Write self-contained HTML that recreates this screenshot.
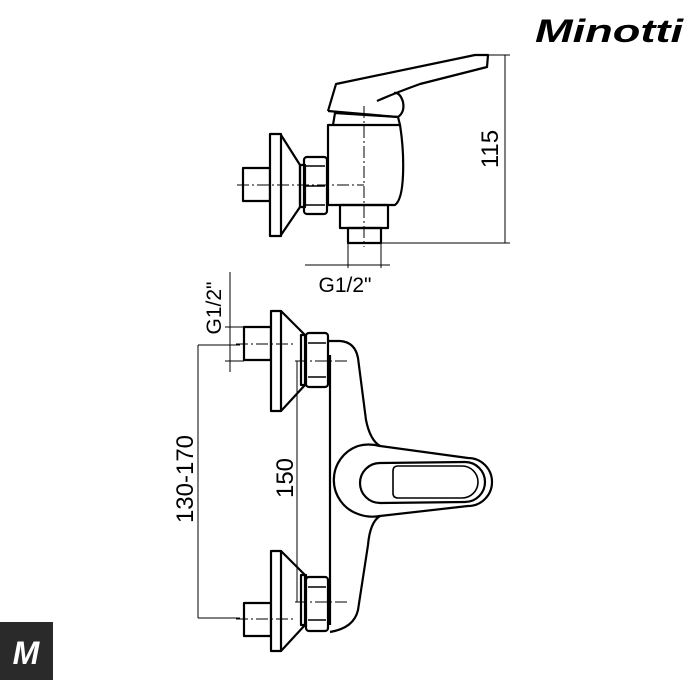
<!DOCTYPE html>
<html><head><meta charset="utf-8"><style>
html,body{margin:0;padding:0;background:#fff;width:700px;height:700px;overflow:hidden}
svg{display:block}
text{font-family:"Liberation Sans",sans-serif;fill:#000}
</style></head><body>
<svg width="700" height="700" viewBox="0 0 700 700" xmlns="http://www.w3.org/2000/svg">
<g fill="none" stroke="#000" stroke-width="2.2" stroke-linejoin="round">
<!-- TOP VIEW -->
<rect x="243" y="168" width="27" height="33" fill="#fff"/>
<rect x="270" y="134" width="11" height="102" fill="#fff"/>
<path d="M281 135 L300 165 L300 207 L281 235"/>
<rect x="300" y="165" width="5" height="42"/>
<rect x="304" y="157" width="23" height="57" rx="3"/>
<path d="M306 166 L325 166 M306 205 L325 205 M306 186 L325 186" stroke-width="1.4"/>
<path d="M328 125 L400 125 Q404 150 403 175 Q402 200 395 205 L328 205 Z"/>
<path d="M333 125 L335 113 L398 117 L400 125"/>
<path d="M328 111 L336 84 L475 55 L488 55 L487 67 L420 84 Q395 93 377 101 M398 117 L328 111" />
<path d="M398 117 Q405 112 403 102 Q400 92 394 93"/>
<rect x="340" y="205" width="48" height="23"/>
<rect x="348" y="228" width="33" height="15"/>
</g>
<g fill="none" stroke="#000" stroke-width="1" stroke-dasharray="12 3 2 3">
<path d="M237 185 L364 185"/>
<path d="M364 106 L364 247"/>
</g>
<g fill="none" stroke="#000" stroke-width="1">
<path d="M488 55 L510 55 M381 243 L510 243 M505 55 L505 243"/>
<path d="M348 243 L348 268 M381 243 L381 268 M305 265 L390 265"/>
</g>
<text x="498" y="149" font-size="24" transform="rotate(-90 498 149)" text-anchor="middle">115</text>
<text x="345" y="292" font-size="21" text-anchor="middle">G1/2"</text>

<!-- BOTTOM VIEW -->
<g fill="none" stroke="#000" stroke-width="2.2" stroke-linejoin="round">
<path d="M328 341 L340 341 Q355 342 358 358 L366 420 Q370 440 380 446"/>
<path d="M330 355 L330 625"/>
<path d="M380 516 Q370 522 368 545 L358 610 Q354 628 330 632"/>
<path d="M380 446 Q368 443 358 446 A36 36 0 0 0 358 514 Q368 518 380 516 L468 506 A24 24 0 0 0 468 458 Z"/>
<path d="M380 463 L465 462 A20 20 0 0 1 465 502 L380 503 A20 20 0 0 1 380 463 Z"/>
<path d="M398 466 L462 466 A16 16 0 0 1 462 498 L398 498 Q393 498 393 493 L393 471 Q393 466 398 466 Z" stroke-width="1.6"/>
<rect x="244" y="327" width="27" height="33" fill="#fff"/>
<rect x="271" y="311" width="10" height="100" fill="#fff"/>
<path d="M281 311 L305 335 L305 385 L281 411"/>
<rect x="301" y="335" width="5" height="50"/>
<rect x="306" y="333" width="22" height="54" rx="3" fill="#fff"/>
<path d="M308 343 L326 343 M308 377 L326 377" stroke-width="1.4"/>
<rect x="244" y="603" width="27" height="33" fill="#fff"/>
<rect x="271" y="551" width="10" height="100" fill="#fff"/>
<path d="M281 551 L305 575 L305 625 L281 651"/>
<rect x="301" y="575" width="5" height="50"/>
<rect x="306" y="577" width="22" height="54" rx="3" fill="#fff"/>
<path d="M308 587 L326 587 M308 620 L326 620" stroke-width="1.4"/>
</g>
<g fill="none" stroke="#000" stroke-width="1" stroke-dasharray="12 3 2 3">
<path d="M236 344 L295 344 M236 619 L295 619"/>
<path d="M295 361 L350 361 M295 602 L350 602"/>
</g>
<g fill="none" stroke="#000" stroke-width="1">
<path d="M297 361 L297 602"/>
<path d="M198 345 L198 618 M198 345 L240 345 M198 618 L240 618"/>
<path d="M230 272 L230 372 M225 327 L244 327 M225 361 L244 361"/>
</g>
<text x="221" y="308" font-size="21" transform="rotate(-90 221 308)" text-anchor="middle">G1/2"</text>
<text x="293" y="478" font-size="24" transform="rotate(-90 293 478)" text-anchor="middle">150</text>
<text x="193" y="479" font-size="24" transform="rotate(-90 193 479)" text-anchor="middle">130-170</text>

<!-- LOGOS -->
<text x="535" y="42" font-size="32" font-weight="bold" font-style="italic" textLength="148" lengthAdjust="spacingAndGlyphs">Minotti</text>
<rect x="0" y="622" width="53" height="58" fill="#2a2a2a"/>
<text x="26" y="664" font-size="32" font-weight="bold" font-style="italic" text-anchor="middle" style="fill:#fff">M</text>
</svg>
</body></html>
